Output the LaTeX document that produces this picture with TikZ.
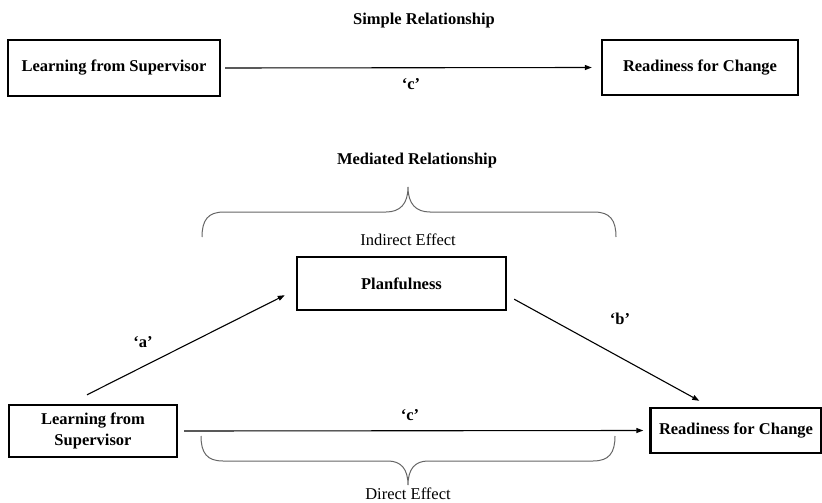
\documentclass[tikz,border=0pt]{standalone}
\usepackage{fontspec}
\setmainfont{Liberation Serif}
\usetikzlibrary{arrows.meta,positioning,calc}
\newcommand\diagfont{\fontsize{16.5}{21}\selectfont}
\tikzset{
  >={Triangle[length=7pt,width=5pt]},
  block/.style={draw,line width=2.4pt,align=center,inner sep=3pt,font=\diagfont\bfseries},
  arrow/.style={->,line width=1.1pt},
  lbl/.style={font=\diagfont\bfseries},
  efct/.style={font=\diagfont},
  brace/.style={draw=black!60,line width=1pt},
}

\begin{document}
\begin{tikzpicture}[x=1pt,y=-1pt]
			\useasboundingbox (0,0) rectangle (822,503);
			% simple relationship
			\node[lbl] (ttl1) at (424,21) {Simple Relationship};
			\node[block,minimum width=212pt,minimum height=56pt] (lfs1) at (114,68) {Learning from Supervisor};
			\node[block,minimum width=196pt,minimum height=55pt] (rfc1) at (700,67.5) {Readiness for Change};
			\draw[arrow] ([xshift=4pt]lfs1.east) -- ([xshift=-9pt]rfc1.west);
			\node[lbl] (c1) at (411,84) {‘c’};
			% mediated relationship
			\node[lbl] (ttl2) at (417,161) {Mediated Relationship};
			\node[block,minimum width=209pt,minimum height=53pt] (plan) at (401.5,283.5) {Planfulness};
			\node[block,minimum width=168pt,minimum height=52pt] (lfs2) at (93,431) {Learning from\\Supervisor};
			\node[block,minimum width=171pt,minimum height=45pt] (rfc2) at (736,430.5) {Readiness for Change};
			\draw[arrow] ([xshift=-6pt,yshift=9pt]lfs2.north) -- ([xshift=-11pt,yshift=16pt]plan.south west);
			\draw[arrow] ([xshift=7pt,yshift=12pt]plan.south east) -- ([xshift=50pt,yshift=6pt]rfc2.north west);
			\draw[arrow] ([xshift=6pt]lfs2.east) -- ([xshift=-6pt]rfc2.west);
			\node[lbl] (a) at (143,342) {‘a’};
			\node[lbl] (b) at (620,319) {‘b’};
			\node[lbl] (c2) at (410,415) {‘c’};
			% braces
			\draw[brace] (202,237) .. controls (202,220) and (208,212) .. (224,212) -- (386,212)
				.. controls (400,212) and (408,204) .. (408,187) .. controls (408,204) and (416,212) .. (430,212)
				-- (594,212) .. controls (610,212) and (616,220) .. (616,237);
			\node[efct] (ind) at (408,240) {Indirect Effect};
			\draw[brace] (201,436) .. controls (201,453) and (207,461) .. (223,461) -- (388,461)
				.. controls (401,461) and (408,469) .. (408,485) .. controls (408,469) and (415,461) .. (428,461)
				-- (593,461) .. controls (609,461) and (615,453) .. (615,436);
			\node[efct] (dir) at (408,494) {Direct Effect};
		\end{tikzpicture}
\end{document}
